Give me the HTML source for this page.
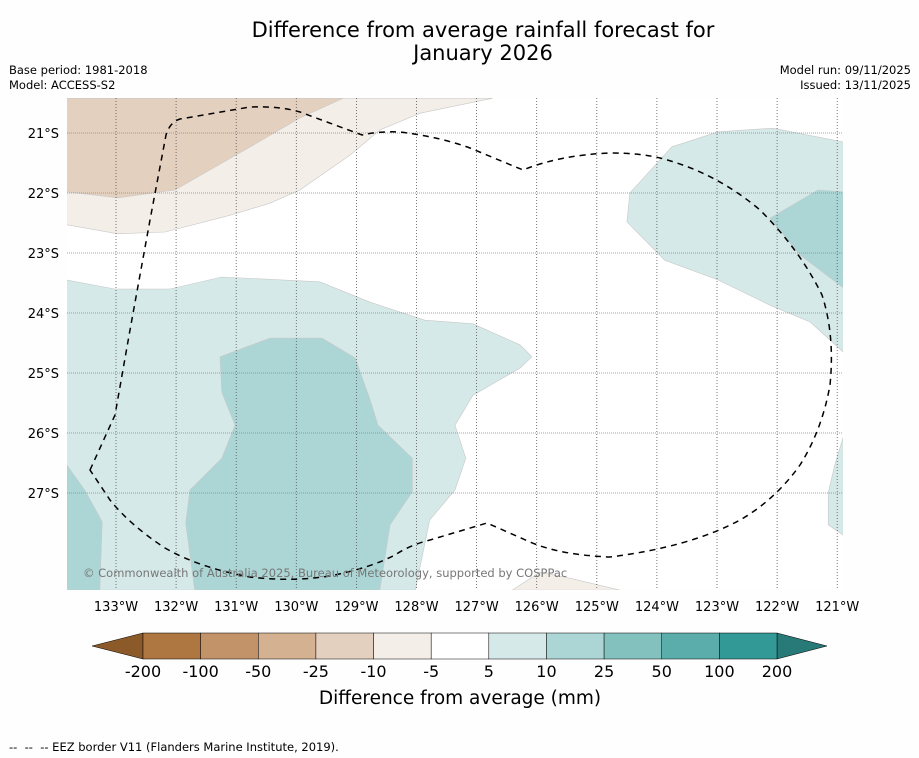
<!DOCTYPE html>
<html><head><meta charset="utf-8">
<style>
body{margin:0;background:#fefefe;font-family:"Liberation Sans","DejaVu Sans",sans-serif;}
#wrap{position:relative;width:919px;height:758px;overflow:hidden;background:#fefefe;}
.t{position:absolute;white-space:nowrap;color:#000;}
</style></head><body>
<div id="wrap">
<div class="t" style="left:0;width:966px;top:19px;text-align:center;font-size:21px;line-height:23px;font-family:'DejaVu Sans',sans-serif;">Difference from average rainfall forecast for<br>January 2026</div>
<div class="t" style="left:9px;top:63px;font-size:11.5px;line-height:15px;font-family:'DejaVu Sans',sans-serif;">Base period: 1981-2018<br>Model: ACCESS-S2</div>
<div class="t" style="right:8px;top:63px;font-size:11.5px;line-height:15px;text-align:right;font-family:'DejaVu Sans',sans-serif;">Model run: 09/11/2025<br>Issued: 13/11/2025</div>
<svg id="svg" width="919" height="758" style="position:absolute;left:0;top:0"></svg>
<div class="t" style="left:9px;top:740px;font-size:11.5px;font-family:'DejaVu Sans',sans-serif;">--&nbsp; --&nbsp; -- EEZ border V11 (Flanders Marine Institute, 2019).</div>
</div>
<script>
const lonTicks=[-133,-132,-131,-130,-129,-128,-127,-126,-125,-124,-123,-122,-121];
const latTicks=[-21,-22,-23,-24,-25,-26,-27];
const cbLabels=["-200","-100","-50","-25","-10","-5","5","10","25","50","100","200"];
const cbColors=["#ae7741","#c29368","#d4b191","#e4d0bf","#f3eee8","#ffffff","#d5e9e8","#acd6d5","#83c1bf","#5aadab","#329996"];
const contours=[
 {name:"dry-10-25",fill:"#f3eee8",pts:[[-133.82,-20.42],[-126.73,-20.42],[-127.94,-20.67],[-128.61,-20.95],[-129.11,-21.37],[-129.94,-21.95],[-130.44,-22.17],[-131.10,-22.37],[-132.18,-22.65],[-132.97,-22.68],[-133.82,-22.53]]},
 {name:"dry-25-50",fill:"#e4d0bf",pts:[[-133.82,-20.42],[-129.22,-20.42],[-129.94,-20.75],[-130.85,-21.28],[-132.02,-21.95],[-132.97,-22.08],[-133.82,-21.98]]},
 {name:"dry-south",fill:"#f3eee8",pts:[[-126.41,-28.62],[-125.95,-28.32],[-125.45,-28.42],[-124.61,-28.62]]},
 {name:"wet-5-10-west",fill:"#d5e9e8",pts:[[-133.82,-23.45],[-133.02,-23.6],[-132.10,-23.6],[-131.24,-23.4],[-129.61,-23.48],[-128.77,-23.82],[-127.86,-24.12],[-127.06,-24.18],[-126.28,-24.53],[-126.08,-24.73],[-126.28,-24.92],[-127.06,-25.37],[-127.36,-25.87],[-127.18,-26.42],[-127.36,-26.95],[-127.78,-27.45],[-128.02,-28.62],[-133.82,-28.62]]},
 {name:"wet-10-25-central",fill:"#acd6d5",pts:[[-131.27,-24.73],[-130.44,-24.42],[-129.57,-24.42],[-129.02,-24.75],[-128.77,-25.45],[-128.64,-25.87],[-128.07,-26.42],[-128.07,-26.98],[-128.44,-27.53],[-128.61,-28.62],[-131.69,-28.62],[-131.84,-27.5],[-131.77,-26.95],[-131.24,-26.42],[-131.02,-25.87],[-131.24,-25.32]]},
 {name:"wet-10-25-southwest",fill:"#acd6d5",pts:[[-133.82,-26.53],[-133.52,-26.95],[-133.23,-27.48],[-133.27,-28.62],[-133.82,-28.62]]},
 {name:"wet-5-10-east",fill:"#d5e9e8",pts:[[-124.45,-22.0],[-123.75,-21.23],[-122.98,-20.98],[-122.07,-20.92],[-120.90,-21.15],[-120.90,-24.65],[-121.45,-24.15],[-122.12,-23.87],[-122.98,-23.45],[-123.87,-23.12],[-124.50,-22.48]]},
 {name:"wet-10-25-east",fill:"#acd6d5",pts:[[-122.12,-22.42],[-121.32,-21.95],[-120.90,-21.98],[-120.90,-23.58],[-121.62,-23.03]]},
 {name:"wet-5-10-southeast",fill:"#d5e9e8",pts:[[-120.90,-26.07],[-121.04,-26.53],[-121.15,-27.0],[-121.15,-27.53],[-120.90,-27.7]]}
];
const NS="http://www.w3.org/2000/svg";
const svg=document.getElementById('svg');
const X0=67,X1=843,Y0=98,Y1=590;
function xS(lon){return 116+(lon+133)*60.1;}
function yS(lat){return 133+(-21-lat)*60;}
function mk(tag,attrs,parent){const e=document.createElementNS(NS,tag);for(const k in attrs)e.setAttribute(k,attrs[k]);(parent||svg).appendChild(e);return e;}
const defs=mk('defs',{});
const cp=mk('clipPath',{id:'mapclip'},defs);
mk('rect',{x:X0,y:Y0,width:X1-X0,height:Y1-Y0},cp);
const bg=mk('rect',{x:X0,y:Y0,width:X1-X0,height:Y1-Y0,fill:'#ffffff'});


const g=mk('g',{'clip-path':'url(#mapclip)'});
contours.forEach(c=>{
 const p=mk('polygon',{points:c.pts.map(q=>xS(q[0]).toFixed(1)+','+yS(q[1]).toFixed(1)).join(' '),fill:c.fill,stroke:'#c8c8c8','stroke-width':0.6},g);
 
 
});
lonTicks.forEach(l=>{
 const ln=mk('line',{x1:xS(l),x2:xS(l),y1:Y0,y2:Y1,stroke:'#555','stroke-width':0.8,'stroke-dasharray':'1,2'},g);
 
 
 const t=mk('text',{x:xS(l),y:611,'text-anchor':'middle','font-size':13,'font-family':'DejaVu Sans, sans-serif'});
 t.textContent=Math.abs(l)+'°W';
 
 
});
latTicks.forEach(l=>{
 const ln=mk('line',{x1:X0,x2:X1,y1:yS(l),y2:yS(l),stroke:'#888','stroke-width':0.8,'stroke-dasharray':'1,1'},g);
 
 
 const t=mk('text',{x:59,y:yS(l)+5,'text-anchor':'end','font-size':13,'font-family':'DejaVu Sans, sans-serif'});
 t.textContent=Math.abs(l)+'°S';
 
 
});
const eez=mk('path',{d:"M90,470 L115,415 L130,330 L150,220 L166,135 Q170,122 180,119 L250,107 Q280,106 300,112 L362,135 Q380,131 400,132 Q440,137 470,148 L523,170 Q560,155 610,153 Q640,153 660,158 Q715,172 760,210 Q800,250 822,295 Q835,335 830,385 Q822,430 800,465 Q775,500 740,520 Q690,547 610,557 Q560,555 530,542 L487,523 L430,540 Q410,545 395,555 Q370,568 330,576 Q290,582 250,577 Q200,568 165,548 Q130,525 110,500 Z",fill:'none',stroke:'#000','stroke-width':1.5,'stroke-dasharray':'6,5'},g);


const cr=mk('text',{x:83,y:577,'font-size':11.5,fill:'#777','font-family':'DejaVu Sans, sans-serif'});
cr.textContent='© Commonwealth of Australia 2025, Bureau of Meteorology, supported by COSPPac';


const cbX0=143,cbX1=777,cbY0=633,cbY1=659;
const w=(cbX1-cbX0)/cbColors.length;
const lt=mk('polygon',{points:`92,646 ${cbX0},${cbY0} ${cbX0},${cbY1}`,fill:'#8c5a28',stroke:'#000','stroke-width':0.5});


const rt=mk('polygon',{points:`827,646 ${cbX1},${cbY0} ${cbX1},${cbY1}`,fill:'#287a78',stroke:'#000','stroke-width':0.5});


cbColors.forEach((c,i)=>{
 const r=mk('rect',{x:cbX0+i*w,y:cbY0,width:w,height:cbY1-cbY0,fill:c,stroke:'#000','stroke-width':0.5});
 
 
});
cbLabels.forEach((s,i)=>{
 const t=mk('text',{x:cbX0+i*w,y:677,'text-anchor':'middle','font-size':16,'font-family':'DejaVu Sans, sans-serif'});
 t.textContent=s;
 
 
});
const ct=mk('text',{x:460,y:704,'text-anchor':'middle','font-size':18.5,'font-family':'DejaVu Sans, sans-serif'});
ct.textContent='Difference from average (mm)';


</script>
</body></html>
